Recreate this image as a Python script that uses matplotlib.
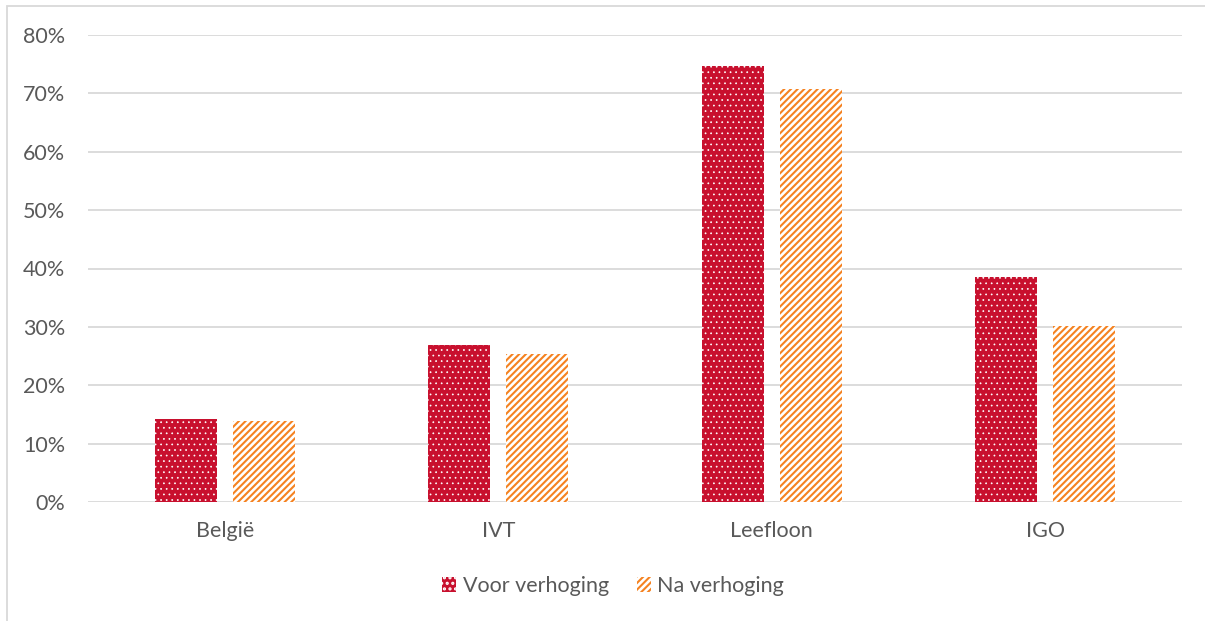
import matplotlib.pyplot as plt
import matplotlib.patches as mpatches
import numpy as np
from matplotlib.ticker import PercentFormatter

categories = ["België", "IVT", "Leefloon", "IGO"]
voor = [14.3, 26.9, 74.7, 38.5]
na = [13.9, 25.3, 70.8, 30.1]

red = "#C8102E"
orange = "#F58220"
grey_text = "#595959"
grid_grey = "#D9D9D9"

plt.rcParams["font.family"] = ["Lato", "DejaVu Sans"]

fig = plt.figure(figsize=(12.05, 6.21), dpi=100)
ax = fig.add_axes([88 / 1205, 1 - 502 / 621, (1182 - 88) / 1205, (502 - 35) / 621])

x = np.arange(len(categories))
w = 0.227
gap = 0.0585

# dotted bars: white dots on red
plt.rcParams["hatch.linewidth"] = 0.5
b1 = ax.bar(x - (w + gap) / 2, voor, w, color=red, edgecolor="white",
            linewidth=0, hatch="...", label="Voor verhoging", zorder=3)

# striped bars: orange diagonals on white
plt.rcParams["hatch.linewidth"] = 1.5
b2 = ax.bar(x + (w + gap) / 2, na, w, color="white", edgecolor=orange,
            linewidth=0, hatch="/////", label="Na verhoging", zorder=3)

ax.set_xlim(-0.5, len(categories) - 0.5)
ax.set_ylim(0, 80)
ax.set_yticks(range(0, 81, 10))
ax.yaxis.set_major_formatter(PercentFormatter(decimals=0))
ax.set_xticks(x)
ax.set_xticklabels(categories)

ax.grid(axis="y", color=grid_grey, linewidth=1.3, zorder=0)
ax.set_axisbelow(True)
for s in ax.spines.values():
    s.set_visible(False)
ax.tick_params(axis="both", length=0, labelsize=15.5, labelcolor=grey_text)
ax.tick_params(axis="y", pad=16.5)
ax.tick_params(axis="x", pad=14)

leg = fig.legend(handles=[b1, b2], loc="center", bbox_to_anchor=(0.509, 1 - 586 / 621),
                 ncol=2, frameon=False, fontsize=15.5, handlelength=0.65, handleheight=0.65,
                 handletextpad=0.3, columnspacing=1.3, labelcolor=grey_text)

# outer chart frame
fig.patches.append(mpatches.Rectangle((7 / 1205, -0.1), 1.2, 1 - 6 / 621 + 0.1,
                                      transform=fig.transFigure, fill=False,
                                      edgecolor=grid_grey, linewidth=1.3))

fig.savefig("out.png", dpi=100)
